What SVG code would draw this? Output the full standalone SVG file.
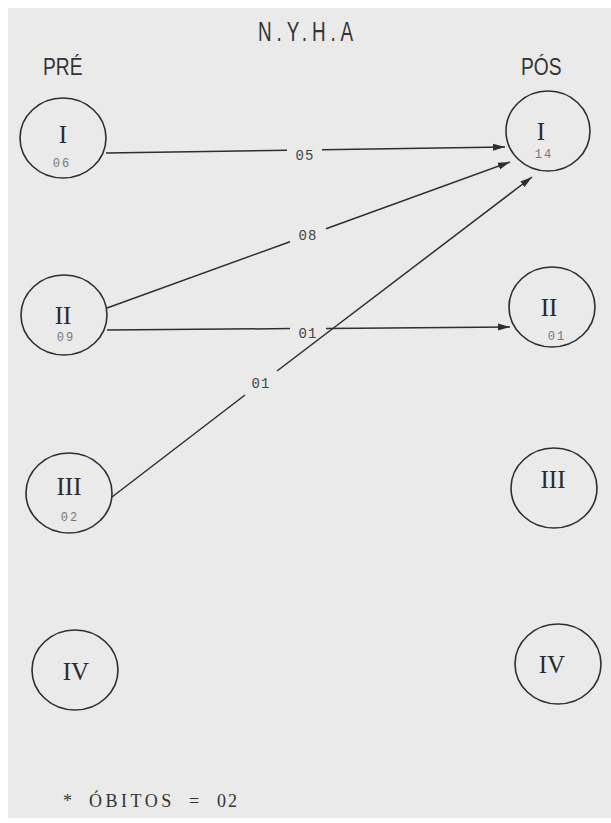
<svg xmlns="http://www.w3.org/2000/svg" width="611" height="823" viewBox="0 0 611 823">
<defs>
<style>
.node ellipse{fill:none;stroke:#2e2e2e;stroke-width:1.6}
.roman{font-family:"Liberation Serif",serif;font-size:25px;fill:#2a2a2a;text-anchor:middle}
.num{font-family:"Liberation Mono",monospace;font-size:12px;fill:#777;text-anchor:middle;letter-spacing:2px}
.head{font-family:"Liberation Sans",sans-serif;fill:#333}
.edge{fill:none;stroke:#2e2e2e;stroke-width:1.5}
.elabel{font-family:"Liberation Mono",monospace;font-size:14px;fill:#444;text-anchor:middle;letter-spacing:1px}
.foot{font-family:"Liberation Serif",serif;font-size:18px;fill:#333}
</style>
<marker id="arr" markerUnits="userSpaceOnUse" markerWidth="13" markerHeight="8" refX="12" refY="4" orient="auto">
<path d="M0,0.5 L12,4 L0,7.5 z" fill="#2e2e2e"/>
</marker>
</defs>
<rect x="0" y="0" width="611" height="823" fill="#ffffff"/>
<rect x="8" y="8" width="603" height="810" fill="#eaeaea"/>

<text class="head" transform="translate(258,41) scale(0.7,1)" x="0" y="0" font-size="27" letter-spacing="7">N.Y.H.A</text>
<text class="head" transform="translate(43,75) scale(0.8,1)" x="0" y="0" font-size="24">PRÉ</text>
<text class="head" transform="translate(521,75) scale(0.8,1)" x="0" y="0" font-size="24">PÓS</text>

<g id="connectors">
<path class="edge" d="M106,153 L287,150.3 M322,149.8 L505,147" marker-end="url(#arr)"/>
<path class="edge" d="M107,308 L290,241.7 M326,228.7 L510,162" marker-end="url(#arr)"/>
<path class="edge" d="M107,330 L290,328.6 M326,328.4 L510,327" marker-end="url(#arr)"/>
<path class="edge" d="M112,497 L245,395 M277,371 L532,177" marker-end="url(#arr)"/>
<text class="elabel" x="305" y="160">05</text>
<text class="elabel" x="308" y="240">08</text>
<text class="elabel" x="308" y="338">01</text>
<text class="elabel" x="261" y="388">01</text>
</g>

<g id="pre-I" class="node"><ellipse cx="63" cy="138" rx="43" ry="40"/><text class="roman" x="63" y="143">I</text><text class="num" x="62" y="167">06</text></g>
<g id="pre-II" class="node"><ellipse cx="64" cy="315" rx="43" ry="40"/><text class="roman" x="63" y="324">II</text><text class="num" x="66" y="341">09</text></g>
<g id="pre-III" class="node"><ellipse cx="69" cy="493" rx="43" ry="40"/><text class="roman" x="69" y="495">III</text><text class="num" x="70" y="521">02</text></g>
<g id="pre-IV" class="node"><ellipse cx="75" cy="670" rx="43" ry="40"/><text class="roman" x="76" y="680">IV</text></g>

<g id="pos-I" class="node"><ellipse cx="548" cy="131" rx="42" ry="40"/><text class="roman" x="541" y="140">I</text><text class="num" x="544" y="158">14</text></g>
<g id="pos-II" class="node"><ellipse cx="552" cy="307" rx="43" ry="40"/><text class="roman" x="549" y="316">II</text><text class="num" x="557" y="340">01</text></g>
<g id="pos-III" class="node"><ellipse cx="554" cy="488" rx="43" ry="40"/><text class="roman" x="553" y="488">III</text></g>
<g id="pos-IV" class="node"><ellipse cx="558" cy="664" rx="43" ry="40"/><text class="roman" x="552" y="673">IV</text></g>

<text class="foot" y="807"><tspan x="63">*</tspan><tspan x="89" letter-spacing="3.5">ÓBITOS</tspan><tspan x="189">=</tspan><tspan x="217" letter-spacing="2">02</tspan></text>
</svg>
